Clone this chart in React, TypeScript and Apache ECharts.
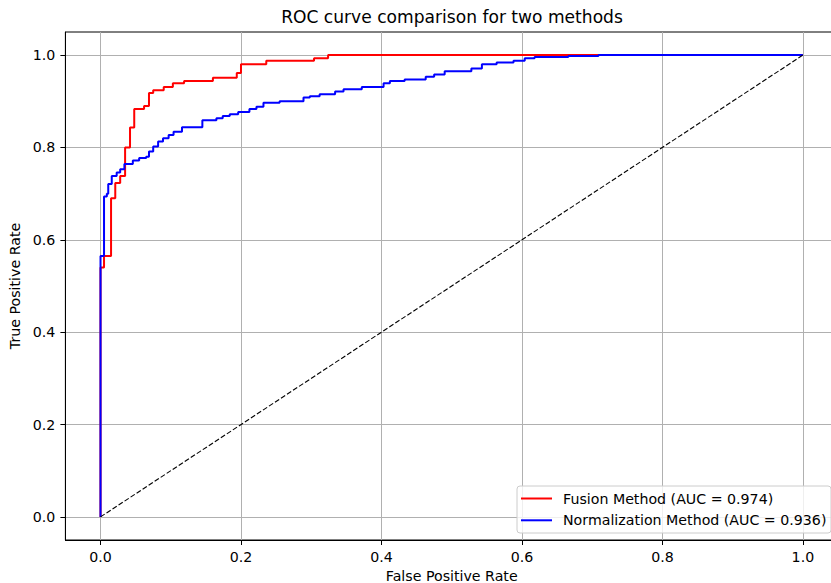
import React, { useEffect, useRef } from "react";
import * as echarts from "echarts";

const chartTitle = "ROC curve comparison for two methods";
const xAxisName = "False Positive Rate";
const yAxisName = "True Positive Rate";
const seriesNames = ["Fusion Method (AUC = 0.974)", "Normalization Method (AUC = 0.936)"];
const seriesColors = ["#ff0000", "#0000ff"];
const tickValues = [0, 0.2, 0.4, 0.6, 0.8, 1.0];

const fusionFpr = [0, 0, 0.005, 0.015, 0.021, 0.028, 0.035, 0.042, 0.048, 0.062, 0.069, 0.075, 0.09, 0.103, 0.119, 0.16, 0.194, 0.2, 0.236, 0.304, 0.324, 1.0];
const fusionTpr = [0, 0.54, 0.565, 0.69, 0.723, 0.738, 0.8, 0.843, 0.883, 0.89, 0.918, 0.924, 0.931, 0.939, 0.944, 0.951, 0.961, 0.98, 0.988, 0.993, 1.0, 1.0];

const normFpr = [0, 0, 0.005, 0.009, 0.011, 0.016, 0.023, 0.028, 0.034, 0.046, 0.055, 0.065, 0.069, 0.075, 0.082, 0.089, 0.097, 0.104, 0.116, 0.145, 0.165, 0.174, 0.184, 0.196, 0.212, 0.222, 0.232, 0.255, 0.289, 0.298, 0.312, 0.334, 0.346, 0.372, 0.403, 0.412, 0.433, 0.463, 0.475, 0.49, 0.528, 0.543, 0.564, 0.588, 0.604, 0.618, 0.666, 0.709, 1.0];
const normTpr = [0, 0.565, 0.694, 0.7, 0.721, 0.738, 0.746, 0.753, 0.764, 0.772, 0.777, 0.78, 0.791, 0.802, 0.813, 0.82, 0.827, 0.834, 0.844, 0.859, 0.863, 0.868, 0.872, 0.877, 0.883, 0.888, 0.897, 0.9, 0.908, 0.911, 0.915, 0.921, 0.926, 0.931, 0.939, 0.944, 0.947, 0.953, 0.958, 0.965, 0.971, 0.98, 0.984, 0.988, 0.993, 0.996, 0.998, 1.0, 1.0];

const chanceX = [0, 1];
const chanceY = [0, 1];

const FONT = "DejaVu Sans";
const FS = 14.2;

function zip(xs: number[], ys: number[]) {
  return xs.map((x, i) => [x, ys[i]]);
}

export default function App() {
  const ref = useRef<HTMLDivElement>(null);
  useEffect(() => {
    if (!ref.current) return;
    const chart = echarts.init(ref.current, null, { renderer: "svg" });
    const axisCommon = (name: string, isX: boolean) => ({
      type: "value",
      min: -0.05,
      max: 1.05,
      splitNumber: 5,
      name,
      nameLocation: "middle",
      nameGap: isX ? 27 : 38,
      nameTextStyle: { fontFamily: FONT, fontSize: FS, color: "#000" },
      axisLine: { show: true, onZero: false, lineStyle: { color: "#000", width: 1 } },
      axisTick: {
        show: true,
        length: 5,
        customValues: tickValues,
        lineStyle: { color: "#000", width: 1 },
      },
      axisLabel: {
        show: true,
        margin: 10,
        customValues: tickValues,
        fontFamily: FONT,
        fontSize: FS,
        color: "#000",
        formatter: (v: number) => v.toFixed(1),
      },
      splitLine: {
        show: true,
        lineStyle: { color: "#b0b0b0", width: 1 },
      },
    });

    const legendLeft = 517;
    const legendTop = 486;
    const legendGraphic = {
      type: "group",
      children: [
        {
          type: "rect",
          shape: { x: legendLeft, y: legendTop, width: 314, height: 47, r: 3 },
          style: { fill: "rgba(255,255,255,0.8)", stroke: "#cccccc", lineWidth: 1 },
          z: 100,
        },
        ...seriesNames.flatMap((name, i) => {
          const cy = legendTop + 12.5 + i * 21.8;
          return [
            {
              type: "line",
              shape: { x1: legendLeft + 4, y1: cy, x2: legendLeft + 35, y2: cy },
              style: { stroke: seriesColors[i], lineWidth: 2 },
              z: 101,
            },
            {
              type: "text",
              x: legendLeft + 46,
              y: cy,
              style: {
                text: name,
                fontFamily: FONT,
                fontSize: FS,
                fill: "#000",
                textAlign: "left",
                textVerticalAlign: "middle",
              },
              z: 101,
            },
          ];
        }),
      ],
    };

    chart.setOption({
      animation: false,
      backgroundColor: "#fff",
      title: {
        text: chartTitle,
        left: 452,
        top: 7,
        padding: 0,
        textAlign: "center",
        textStyle: { fontFamily: FONT, fontSize: 17.1, fontWeight: "normal", color: "#000", lineHeight: 20 },
      },
      grid: {
        left: 65.4,
        top: 32,
        width: 772.6,
        height: 508,
        show: true,
        borderColor: "#000",
        borderWidth: 1,
        backgroundColor: "transparent",
        containLabel: false,
        outerBoundsMode: "none",
      },
      xAxis: axisCommon(xAxisName, true),
      yAxis: axisCommon(yAxisName, false),
      series: [
        {
          name: seriesNames[0],
          type: "line",
          step: "end",
          data: zip(fusionFpr, fusionTpr),
          symbol: "none",
          lineStyle: { color: seriesColors[0], width: 2 },
          itemStyle: { color: seriesColors[0] },
        },
        {
          name: seriesNames[1],
          type: "line",
          step: "end",
          data: zip(normFpr, normTpr),
          symbol: "none",
          lineStyle: { color: seriesColors[1], width: 2 },
          itemStyle: { color: seriesColors[1] },
        },
        {
          name: "chance",
          type: "line",
          data: zip(chanceX, chanceY),
          symbol: "none",
          lineStyle: { color: "#000", width: 1.1, type: [5, 2.2] },
        },
      ],
      graphic: [legendGraphic],
    });
    return () => chart.dispose();
  }, []);
  return (
    <div
      ref={ref}
      style={{ position: "fixed", left: 0, top: 0, width: 831, height: 583 }}
    />
  );
}
